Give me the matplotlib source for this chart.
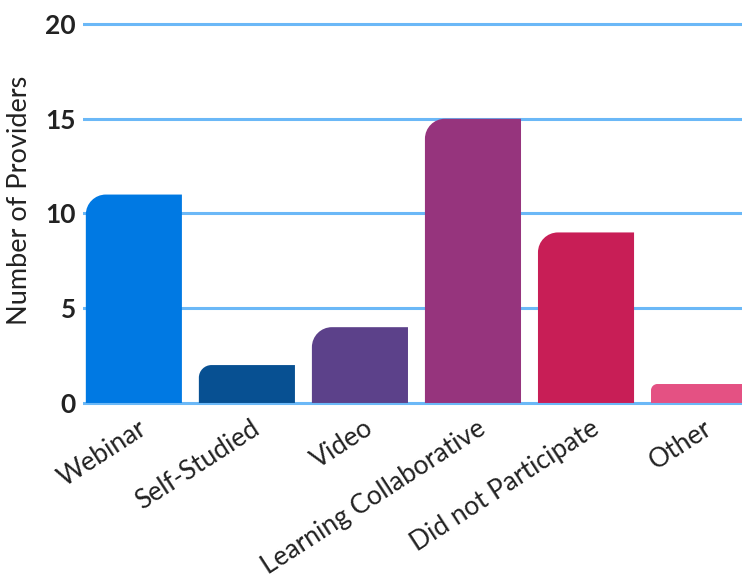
import matplotlib
matplotlib.use('Agg')
import matplotlib.pyplot as plt
import matplotlib.transforms as mtransforms
from matplotlib.path import Path
from matplotlib.patches import PathPatch

categories = ['Webinar', 'Self-Studied', 'Video', 'Learning Collaborative',
              'Did not Participate', 'Other']
values = [11, 2, 4, 15, 9, 1]
colors = ['#0079E3', '#075092', '#5C418A', '#96347D', '#C81E56', '#E45183']
yticks = [0, 5, 10, 15, 20]

plt.rcParams['font.family'] = ['Lato', 'DejaVu Sans']

W, H = 742, 579
fig = plt.figure(figsize=(W / 100, H / 100), dpi=100)
ax = fig.add_axes([83 / W, 1 - 405.8 / H, 1 - 83 / W, (405.8 - 21.2) / H])
ax.set_xlim(-0.45, 5.38)
ax.set_ylim(-0.15, 20.15)

# pixels per data unit
px_x = (W - 83) / (5.38 + 0.45)
px_y = (405.8 - 21.2) / 20.3

width = 0.85
k = 0.5523
for i, (v, c) in enumerate(zip(values, colors)):
    x0, x1 = i - width / 2, i + width / 2
    r_px = min(20, v * px_y / 3)
    rx, ry = r_px / px_x, r_px / px_y
    verts = [(x0, 0), (x0, v - ry),
             (x0, v - ry + k * ry), (x0 + rx - k * rx, v), (x0 + rx, v),
             (x1, v), (x1, 0), (x0, 0)]
    codes = [Path.MOVETO, Path.LINETO,
             Path.CURVE4, Path.CURVE4, Path.CURVE4,
             Path.LINETO, Path.LINETO, Path.CLOSEPOLY]
    ax.add_patch(PathPatch(Path(verts, codes), facecolor=c, edgecolor='none', zorder=3))

for y in yticks:
    ax.axhline(y, color='#6BB8F7', lw=2.2, zorder=1)

for s in ax.spines.values():
    s.set_visible(False)

ax.set_yticks(yticks)
ax.set_yticklabels([str(t) for t in yticks], fontsize=19, fontweight='bold', color='#222222')
ax.tick_params(axis='y', length=0, pad=5)
ax.set_xticks(range(len(categories)))
ax.set_xticklabels(categories, rotation=33, ha='right', rotation_mode='anchor',
                   fontsize=19, color='#222222')
ax.tick_params(axis='x', length=0, pad=7)
shift = mtransforms.ScaledTranslation(4 / 100, 0, fig.dpi_scale_trans)
for lbl in ax.get_xticklabels():
    lbl.set_transform(lbl.get_transform() + shift)
ax.set_ylabel('Number of Providers', fontsize=19.5, color='#222222')
ax.yaxis.set_label_coords(-0.077, 0.535)

fig.savefig('out.png', dpi=100)
